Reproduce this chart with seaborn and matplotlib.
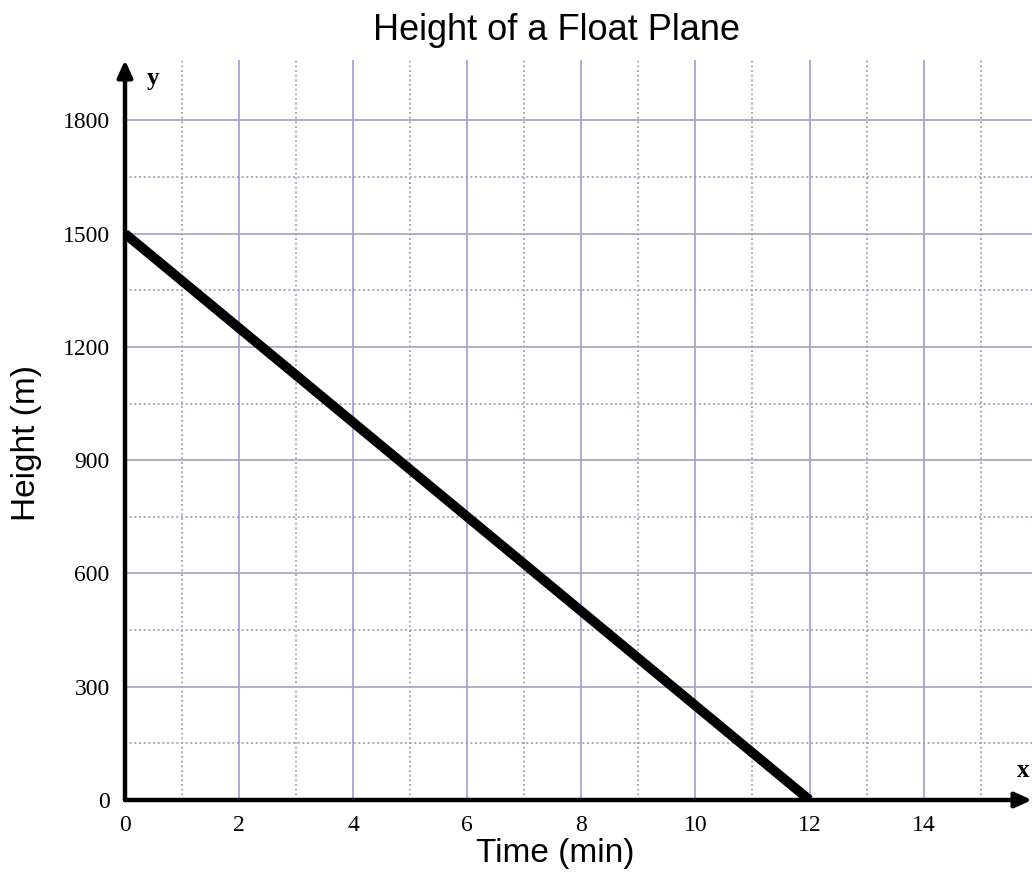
import numpy as np
import pandas as pd
import matplotlib
matplotlib.use("Agg")
import matplotlib.pyplot as plt
import seaborn as sns

# data
time_min = [0, 12]
height_m = [1500, 0]
x_ticks = [0, 2, 4, 6, 8, 10, 12, 14]
x_minor = [1, 3, 5, 7, 9, 11, 13, 15]
y_ticks = [0, 300, 600, 900, 1200, 1500, 1800]
y_minor = [150, 450, 750, 1050, 1350, 1650]

df = pd.DataFrame({"Time": time_min, "Height": height_m})

sns.set_style("white")
plt.rcParams["font.family"] = ["Liberation Sans", "DejaVu Sans"]
plt.rcParams["text.color"] = "black"
plt.rcParams["axes.labelcolor"] = "black"
plt.rcParams["xtick.color"] = "black"
plt.rcParams["ytick.color"] = "black"

fig = plt.figure(figsize=(10.32, 8.84), dpi=100)
ax = fig.add_axes([125 / 1032, 84 / 884, 907 / 1032, 740 / 884])

ax.set_xlim(0, 15.9)
ax.set_ylim(0, 1960)

# grid
for v in x_ticks[1:]:
    ax.axvline(v, color="#a3a3dc", lw=1.3, zorder=1)
for v in x_minor:
    ax.axvline(v, color="#9c9cb8", lw=1.2, ls=(0, (1.2, 1.6)), zorder=1)
for v in y_ticks[1:]:
    ax.axhline(v, color="#a8a8c4", lw=1.3, zorder=1)
for v in y_minor:
    ax.axhline(v, color="#9c9cb8", lw=1.2, ls=(0, (1.2, 1.6)), zorder=1)

sns.lineplot(data=df, x="Time", y="Height", ax=ax, color="black", lw=7,
             solid_capstyle="butt", zorder=3)

for s in ax.spines.values():
    s.set_visible(False)

# axis arrows
ax.annotate("", xy=(1.0, 0), xycoords="axes fraction", xytext=(0, 0),
            arrowprops=dict(arrowstyle="-|>,head_length=1.0,head_width=0.45",
                            color="black", lw=3.2, shrinkA=0, shrinkB=0),
            zorder=4, annotation_clip=False)
ax.annotate("", xy=(0, 1.0), xycoords="axes fraction", xytext=(0, 0),
            arrowprops=dict(arrowstyle="-|>,head_length=1.0,head_width=0.45",
                            color="black", lw=3.2, shrinkA=0, shrinkB=0),
            zorder=4, annotation_clip=False)
ax.text(0.99, 0.04, "x", transform=ax.transAxes, family="Liberation Serif",
        fontsize=18, fontweight="bold", ha="center", va="center")
ax.text(0.031, 0.975, "y", transform=ax.transAxes, family="Liberation Serif",
        fontsize=18, fontweight="bold", ha="center", va="center")

ax.set_xticks(x_ticks)
ax.set_yticks(y_ticks)
ax.set_xticklabels([str(v) for v in x_ticks], family="Liberation Serif", fontsize=17)
ax.set_yticklabels([str(v) for v in y_ticks], family="Liberation Serif", fontsize=17)
ax.tick_params(axis="both", length=0)
ax.tick_params(axis="x", pad=11)
ax.tick_params(axis="y", pad=11)

ax.set_xlabel("Time (min)", fontsize=24)
ax.xaxis.set_label_coords(0.474, -0.052)
ax.set_ylabel("Height (m)", fontsize=24)
ax.yaxis.set_label_coords(-0.092, 0.482)
fig.suptitle("Height of a Float Plane", fontsize=26, x=0.539, y=0.985)

fig.savefig("out.png", dpi=100)
